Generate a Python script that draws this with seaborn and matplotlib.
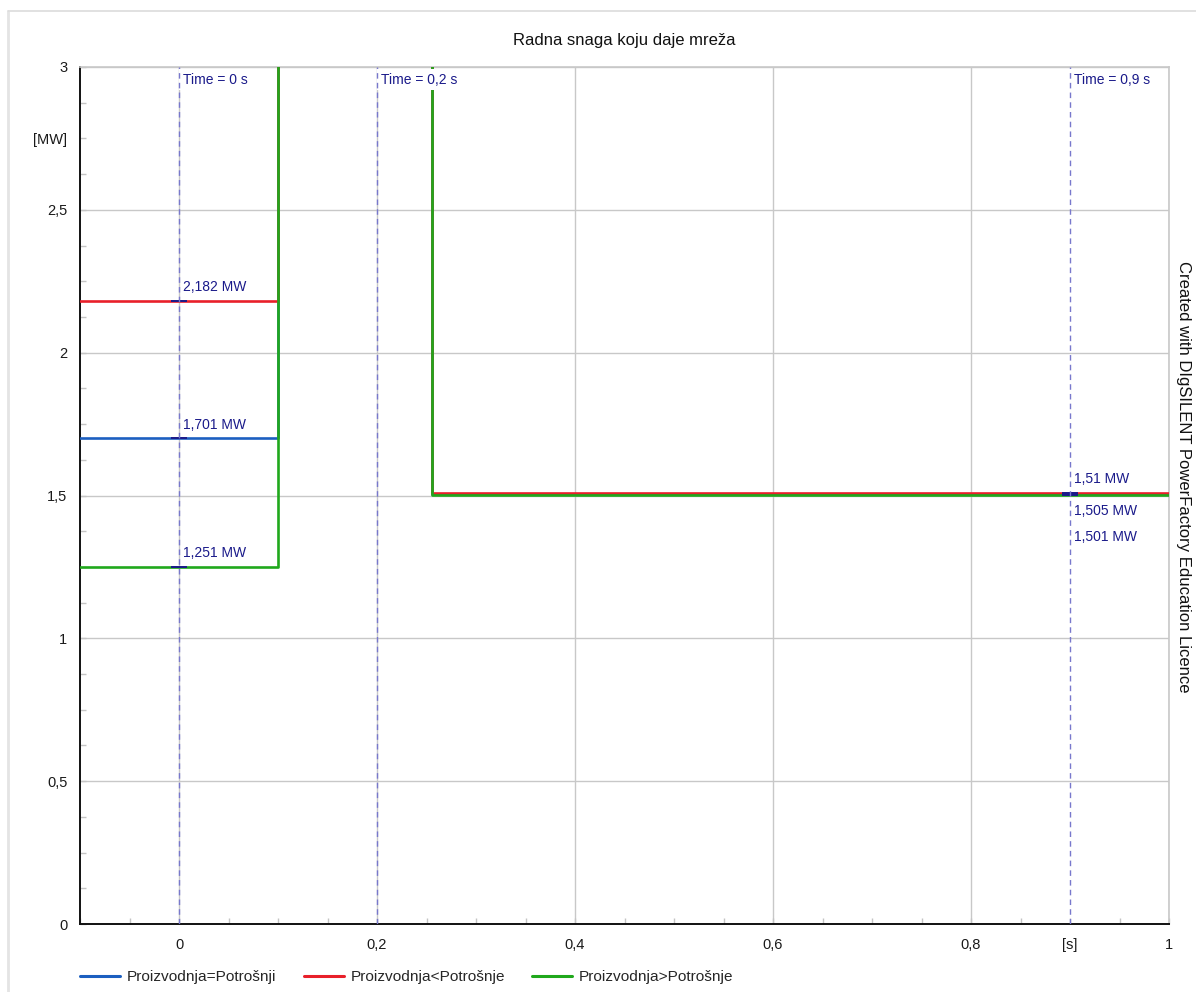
import numpy as np
import pandas as pd
import matplotlib
matplotlib.use('Agg')
import matplotlib.pyplot as plt
import matplotlib.transforms as mtransforms
from matplotlib.lines import Line2D
from matplotlib.ticker import MultipleLocator
import seaborn as sns

# ---------------- data ----------------
series_names = ['Proizvodnja=Potrošnji', 'Proizvodnja<Potrošnje', 'Proizvodnja>Potrošnje']
series_colors = ['#1c5fc0', '#e8202a', '#20a81c']
time_s = [-0.1, 0.1, 0.1, 0.256, 0.256, 1.0]
p_equal = [1.701, 1.701, 4.0, 4.0, 1.505, 1.505]
p_less = [2.182, 2.182, 4.0, 4.0, 1.51, 1.51]
p_greater = [1.251, 1.251, 4.0, 4.0, 1.501, 1.501]

cursor_times = [0.0, 0.2, 0.9]
cursor_labels = ['Time = 0 s', 'Time = 0,2 s', 'Time = 0,9 s']
values_at_0 = [1.701, 2.182, 1.251]
values_at_09 = [1.505, 1.51, 1.501]

x_ticks = [0, 0.2, 0.4, 0.6, 0.8, 0.9, 1.0]
x_tick_labels = ['0', '0,2', '0,4', '0,6', '0,8', '[s]', '1']
y_ticks = [0, 0.5, 1, 1.5, 2, 2.5, 2.75, 3]
y_tick_labels = ['0', '0,5', '1', '1,5', '2', '2,5', '[MW]', '3']

title = 'Radna snaga koju daje mreža'
side_text = 'Created with DIgSILENT PowerFactory Education Licence'

# ---------------- style ----------------
sns.set_theme(style='white')
plt.rcParams['font.family'] = ['Liberation Sans', 'DejaVu Sans']

W, H = 1196, 992
fig = plt.figure(figsize=(W / 100, H / 100), dpi=100)
ax = fig.add_axes([80 / W, 1 - 924 / H, (1169 - 80) / W, (924 - 67) / H])

rows = []
for name, vals in zip(series_names, [p_equal, p_less, p_greater]):
    for t, v in zip(time_s, vals):
        rows.append({'time': t, 'P': v, 'series': name})
df = pd.DataFrame(rows)

sns.lineplot(data=df, x='time', y='P', hue='series', hue_order=series_names,
             palette=dict(zip(series_names, series_colors)), estimator=None,
             sort=False, linewidth=1.9, ax=ax, zorder=3)

ax.set_xlim(-0.1, 1.0)
ax.set_ylim(0, 3)
ax.set_xlabel('')
ax.set_ylabel('')

ax.set_xticks(x_ticks)
ax.set_xticklabels(x_tick_labels, fontsize=10.5)
ax.set_yticks(y_ticks)
ax.set_yticklabels(y_tick_labels, fontsize=10.5)
ax.xaxis.set_minor_locator(MultipleLocator(0.05))
ax.yaxis.set_minor_locator(MultipleLocator(0.125))
ax.xaxis.remove_overlapping_locs = False
ax.yaxis.remove_overlapping_locs = False
ax.tick_params(axis='both', which='major', length=0, colors='#1a1a1a')
ax.tick_params(axis='x', which='major', pad=10)
ax.tick_params(axis='y', which='major', pad=9)
ax.tick_params(axis='both', which='minor', direction='in', length=4.5,
               width=1, color='#c4c4c4', top=False, right=False,
               bottom=True, left=True)

ax.grid(True, which='major', color='#c8c8c8', linewidth=1)
ax.set_axisbelow(True)
for tick in ax.xaxis.get_major_ticks():
    if abs(tick.get_loc() - 0.9) < 1e-9:
        tick.gridline.set_visible(False)
for tick in ax.yaxis.get_major_ticks():
    if abs(tick.get_loc() - 2.75) < 1e-9:
        tick.gridline.set_visible(False)

for side in ['left', 'bottom']:
    ax.spines[side].set_color('#111111')
    ax.spines[side].set_linewidth(1.4)
for side in ['top', 'right']:
    ax.spines[side].set_color('#c8c8c8')
    ax.spines[side].set_linewidth(1.2)

navy = '#1a1a8a'
cursor_color = '#7878cc'
trans = mtransforms.blended_transform_factory(ax.transData, ax.transAxes)
for t, lab in zip(cursor_times, cursor_labels):
    ax.axvline(t, color=cursor_color, linestyle=(0, (4, 3)), linewidth=1.0, zorder=6)
    ax.annotate(lab, xy=(t, 1), xycoords=trans, xytext=(2.8, -4),
                textcoords='offset points', ha='left', va='top', fontsize=10,
                color=navy, zorder=5,
                bbox=dict(boxstyle='square,pad=0.25', fc='white', ec='none'))

# markers and value labels at cursors
for v in values_at_0:
    ax.plot([0.0], [v], marker='_', markersize=11, mew=1.4, color=navy, zorder=4)
    ax.annotate(f'{v} MW'.replace('.', ','), xy=(0.0, v), xytext=(2.6, 9.5),
                textcoords='offset points', ha='left', va='center', fontsize=10,
                color=navy, zorder=5,
                bbox=dict(boxstyle='square,pad=0.1', fc='white', ec='none'))

offsets_09 = {1.51: 9.5, 1.505: -12.5, 1.501: -30}
for v in values_at_09:
    ax.plot([0.9], [v], marker='_', markersize=11, mew=1.4, color=navy, zorder=4)
    ax.annotate(f'{v} MW'.replace('.', ','), xy=(0.9, v), xytext=(2.6, offsets_09[v]),
                textcoords='offset points', ha='left', va='center', fontsize=10,
                color=navy, zorder=5,
                bbox=dict(boxstyle='square,pad=0.1', fc='white', ec='none'))

# title
fig.text(624.5 / W, 1 - 41 / H, title, ha='center', va='center', fontsize=12,
         color='#111111')

# side text
fig.text(1183 / W, 1 - 477 / H, side_text, rotation=270, ha='center',
         va='center', fontsize=12, color='#111111')

# legend
leg = ax.legend(loc='center left', bbox_to_anchor=(80 / W, 15 / H),
                bbox_transform=fig.transFigure, ncol=3, frameon=False,
                fontsize=11.1, handlelength=2.6, handletextpad=0.45,
                columnspacing=1.75, borderpad=0, borderaxespad=0)
for line in leg.get_lines():
    line.set_linewidth(2.2)

# outer frame lines
fig.add_artist(Line2D([8 / W, 8 / W], [0, 1 - 11 / H], transform=fig.transFigure,
                      color='#e4e4e4', linewidth=2))
fig.add_artist(Line2D([8 / W, 1], [1 - 11 / H, 1 - 11 / H], transform=fig.transFigure,
                      color='#dcdcdc', linewidth=1.2))

fig.savefig('out.png', dpi=100)
